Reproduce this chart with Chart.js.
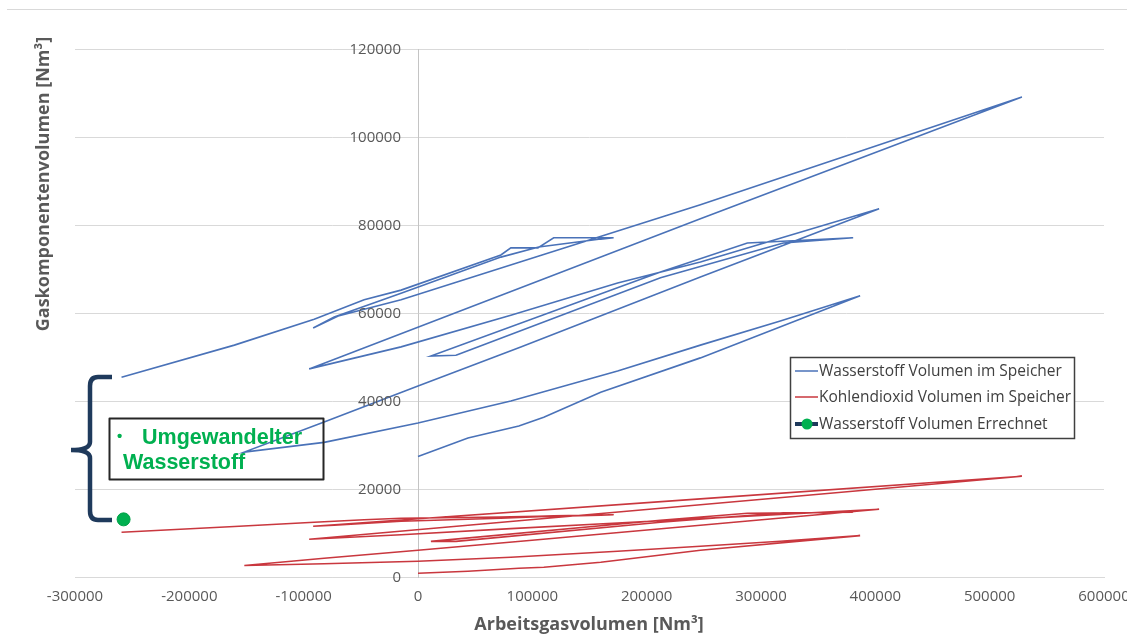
<!DOCTYPE html>
<html><head><meta charset="utf-8">
<script src="https://cdn.jsdelivr.net/npm/chart.js@4/dist/chart.umd.min.js"></script>
<style>html,body{margin:0;padding:0;background:#fff;overflow:hidden}canvas{display:block}</style>
</head><body>
<canvas id="c" width="1127" height="637"></canvas>
<script>
// Arbeitsgasvolumen [Nm³] (x), shared by both measured series; null = gap
const arbeitsgas = [
  0, 43700, 88200, 110000, 159800, 247000, 386700,
  316900, 247000, 174600, 81200, 0, -82100, -151900,
  -82100, 0, 89900, 247000, 403300,
  247000, 174600, 81200, -14800, -95200,
  247000, 528200,
  247000, -14800, -69800, -91700,
  -73300, -14800, 72500, 105600, 159800, 171100,
  118700, 104800, 81200, 72500, -14800, -47100, -90800, -160600, -259300,
  null,
  33200, 11300, 212100, 288100, 380600, 319500, 212100, 33200
];
// Wasserstoff Volumen im Speicher [Nm³]
const wasserstoff = [
  27400, 31600, 34300, 36300, 42000, 49800, 63900,
  58200, 52700, 46800, 40000, 35000, 30600, 28400,
  35200, 43400, 52300, 68200, 83700,
  71600, 66800, 59500, 52300, 47300,
  81400, 109100,
  84600, 63000, 59300, 56600,
  59100, 64500, 72700, 75000, 76800, 77100,
  77100, 74800, 74800, 73200, 65200, 63000, 58600, 52700, 45400,
  null,
  50400, 50200, 69300, 75900, 77100, 75900, 68000, 50400
];
// Kohlendioxid Volumen im Speicher [Nm³]
const kohlendioxid = [
  840, 1300, 1980, 2210, 3340, 6070, 9400,
  8120, 6980, 5850, 4480, 3570, 3000, 2600,
  4250, 6070, 8120, 11760, 15400,
  13260, 12270, 10990, 9600, 8580,
  16430, 22900,
  17750, 12940, 11940, 11530,
  11760, 12670, 13350, 13700, 14040, 14150,
  13920, 13810, 13700, 13650, 13350, 13010, 12440, 11490, 10170,
  null,
  8100, 8100, 12900, 14480, 14700, 14600, 12440, 8100
];
// Wasserstoff Volumen Errechnet
const errechnetX = [-257500];
const errechnetY = [13100];

const seriesNames = [
  'Wasserstoff Volumen im Speicher',
  'Kohlendioxid Volumen im Speicher',
  'Wasserstoff Volumen Errechnet'
];
const xAxisTitle = 'Arbeitsgasvolumen [Nm³]';
const yAxisTitle = 'Gaskomponentenvolumen [Nm³]';
const noteLines = ['Umgewandelter', 'Wasserstoff'];

const BLUE = '#4a72b8', RED = '#c9373e', GREEN = '#00b050', NAVY = '#1f3a5c';
const TICK_FONT = '15px "Open Sans", sans-serif';
const pts = (xs, ys) => xs.map((x, i) => ({x: x, y: ys[i]}));

const overlay = {
  id: 'overlay',
  afterDatasetsDraw(chart) {
    const c = chart.ctx;
    c.save();
    // top thin line
    c.strokeStyle = '#d9d9d9'; c.lineWidth = 1;
    c.beginPath(); c.moveTo(7, 9.5); c.lineTo(1127, 9.5); c.stroke();
    // curly brace
    c.strokeStyle = NAVY; c.lineWidth = 4.5; c.lineCap = 'butt'; c.lineJoin = 'round';
    c.beginPath();
    c.moveTo(112, 377); c.lineTo(98, 377);
    c.quadraticCurveTo(90, 377, 90, 386);
    c.lineTo(90, 442);
    c.quadraticCurveTo(90, 450, 71, 450);
    c.moveTo(71, 450);
    c.quadraticCurveTo(90, 450, 90, 458);
    c.lineTo(90, 511);
    c.quadraticCurveTo(90, 520, 98, 520);
    c.lineTo(112, 520);
    c.stroke();
    // note box
    c.strokeStyle = '#262626'; c.lineWidth = 2;
    c.strokeRect(109.5, 418.5, 214, 61);
    c.fillStyle = GREEN;
    c.textBaseline = 'middle'; c.textAlign = 'left';
    c.font = 'bold 15px "Liberation Sans", Arial, sans-serif';
    c.fillText('\u2022', 117, 437);
    c.font = 'bold 21.5px "Liberation Sans", Arial, sans-serif';
    c.fillText(noteLines[0], 142, 438);
    c.fillText(noteLines[1], 123, 463);
    c.restore();
  },
  afterDraw(chart) {
    const c = chart.ctx;
    const ys = chart.scales.y;
    c.save();
    // y tick labels, right-aligned a little left of the y axis (which sits at x = 0)
    const axisX = chart.scales.x.getPixelForValue(0);
    c.fillStyle = '#595959';
    c.font = TICK_FONT;
    c.textAlign = 'right'; c.textBaseline = 'middle';
    ys.ticks.forEach(t => {
      c.fillText(String(t.value), axisX - 17, ys.getPixelForValue(t.value) + 1);
    });
    // axis titles
    c.font = 'bold 18px "Open Sans", sans-serif';
    c.textAlign = 'center'; c.textBaseline = 'middle';
    c.fillText(xAxisTitle, 589, 625);
    c.translate(44, 184); c.rotate(-Math.PI / 2);
    c.fillText(yAxisTitle, 0, 0);
    c.restore();
    // legend
    c.save();
    c.fillStyle = '#fff';
    c.fillRect(790, 357, 284, 81);
    c.strokeStyle = '#404040'; c.lineWidth = 1.5;
    c.strokeRect(790.5, 357.5, 284, 81);
    const rows = [371, 397, 424];
    const cols = [BLUE, RED, NAVY];
    c.font = '15.5px "Open Sans", sans-serif';
    c.textAlign = 'left'; c.textBaseline = 'middle';
    rows.forEach((y, i) => {
      c.strokeStyle = cols[i];
      c.lineWidth = i === 2 ? 4 : 1.5;
      c.beginPath(); c.moveTo(795, y); c.lineTo(818, y); c.stroke();
      if (i === 2) {
        c.fillStyle = GREEN; c.beginPath(); c.arc(807, y, 5.5, 0, Math.PI * 2); c.fill();
      }
      c.fillStyle = '#404040';
      c.fillText(seriesNames[i], 819, y + 1);
    });
    c.restore();
  }
};

new Chart(document.getElementById('c'), {
  type: 'scatter',
  data: {
    datasets: [
      {label: seriesNames[0], data: pts(arbeitsgas, wasserstoff), showLine: true,
       borderColor: BLUE, borderWidth: 1.6, pointRadius: 0, tension: 0, spanGaps: false},
      {label: seriesNames[1], data: pts(arbeitsgas, kohlendioxid), showLine: true,
       borderColor: RED, borderWidth: 1.6, pointRadius: 0, tension: 0, spanGaps: false},
      {label: seriesNames[2], data: pts(errechnetX, errechnetY), showLine: true,
       borderColor: NAVY, borderWidth: 4, pointRadius: 6.5, pointBackgroundColor: GREEN,
       pointBorderColor: '#00a048', pointBorderWidth: 1}
    ]
  },
  options: {
    responsive: false, animation: false, devicePixelRatio: 1,
    layout: {padding: {left: 75, right: 23, top: 49, bottom: 0}},
    plugins: {legend: {display: false}, tooltip: {enabled: false}},
    scales: {
      x: {
        type: 'linear', position: 'bottom', min: -300000, max: 600000,
        ticks: {stepSize: 100000, padding: 11, color: '#595959',
                font: {family: '"Open Sans", sans-serif', size: 15},
                callback: v => String(v)},
        grid: {display: false, drawTicks: false},
        border: {display: true, color: '#d9d9d9', width: 1},
        afterFit: s => { s.height = 60; s.paddingLeft = 0; s.paddingRight = 0; }
      },
      y: {
        type: 'linear', position: {x: 0}, min: 0, max: 120000,
        ticks: {stepSize: 20000, display: false},
        grid: {color: '#d9d9d9', lineWidth: 1, drawTicks: false},
        border: {display: true, color: '#c4c4c4', width: 1}
      }
    }
  },
  plugins: [overlay]
});
</script>
</body></html>
